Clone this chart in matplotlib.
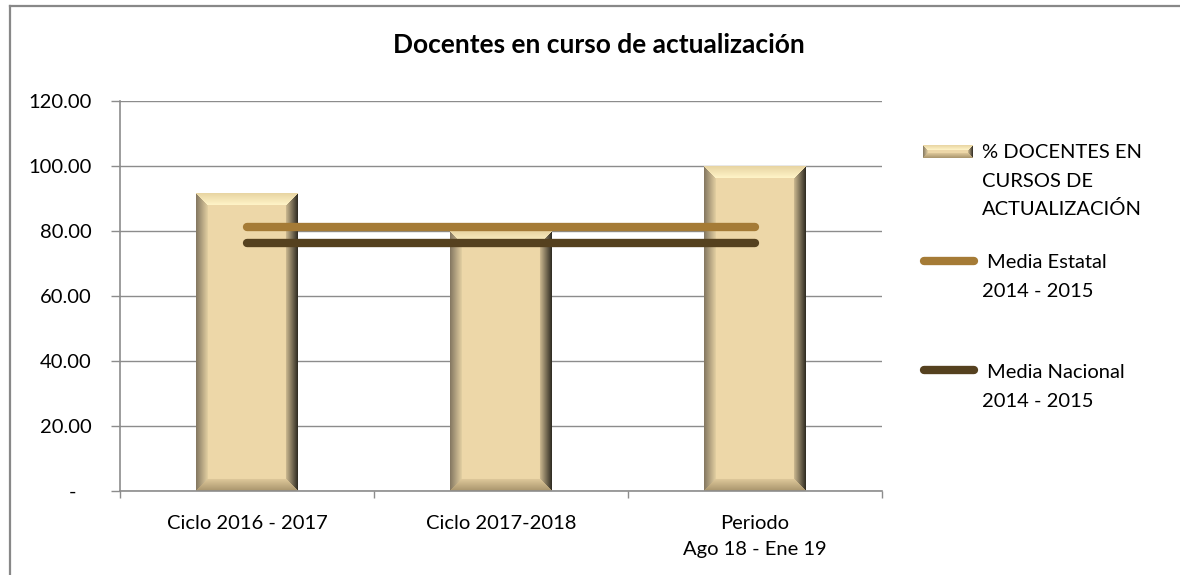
import numpy as np
import matplotlib
matplotlib.use("Agg")
import matplotlib.pyplot as plt
from matplotlib.lines import Line2D
from matplotlib.ticker import FuncFormatter

# ---------------- data ----------------
categories = ["Ciclo 2016 - 2017", "Ciclo 2017-2018", "Periodo\nAgo 18 - Ene 19"]
pct_docentes = [91.6, 80.0, 100.0]
media_estatal = [81.2, 81.2, 81.2]
media_nacional = [76.2, 76.2, 76.2]
yticks = [0, 20, 40, 60, 80, 100, 120]
title = "Docentes en curso de actualización"
legend_bar = ["% DOCENTES EN", "CURSOS DE", "ACTUALIZACIÓN"]
legend_estatal = ["Media Estatal", "2014 - 2015"]
legend_nacional = ["Media Nacional", "2014 - 2015"]

FONT = "Lato"
FS = 14.5
W, H = 1180, 575
plt.rcParams["font.family"] = [FONT, "DejaVu Sans"]

face = np.array([237, 215, 168]) / 255
edge_cols = {
    "top": (np.array([232, 212, 162]) / 255, np.array([255, 244, 200]) / 255),
    "bottom": (np.array([168, 148, 108]) / 255, np.array([222, 200, 154]) / 255),
    "left": (np.array([130, 118, 96]) / 255, np.array([228, 208, 162]) / 255),
    "right": (np.array([45, 41, 33]) / 255, np.array([205, 186, 145]) / 255),
}
C_EST = "#A57B36"
C_NAC = "#55411F"
GRID = "#8C8C8C"


def bevel_img(wpx, hpx, b=12):
    wpx, hpx = max(int(round(wpx)), 2), max(int(round(hpx)), 2)
    ys, xs = np.mgrid[0:hpx, 0:wpx] + 0.5
    d = np.stack([ys, hpx - ys, xs, wpx - xs])  # top, bottom, left, right
    idx = np.argmin(d, axis=0)
    dmin = np.min(d, axis=0)
    img = np.tile(face, (hpx, wpx, 1)).astype(float)
    for k, name in enumerate(["top", "bottom", "left", "right"]):
        c0, c1 = edge_cols[name]
        m = (idx == k) & (dmin < b)
        t = (dmin[m] / b)[:, None]
        img[m] = c0 * (1 - t) + c1 * t
    return np.clip(img, 0, 1)


fig = plt.figure(figsize=(W / 100, H / 100), dpi=100)
ax = fig.add_axes([120 / W, 1 - 491 / H, (882 - 120) / W, (491 - 101) / H])

x = np.arange(len(categories))
bars = ax.bar(x, pct_docentes, width=0.4, color=face, zorder=2, edgecolor="none")
ax.set_xlim(-0.5, len(categories) - 0.5)
ax.set_ylim(yticks[0], yticks[-1])

# bevel shading for each bar
fig.canvas.draw()
for rect in bars:
    x0, y0 = rect.get_x(), rect.get_y()
    w, h = rect.get_width(), rect.get_height()
    p0 = ax.transData.transform((x0, y0))
    p1 = ax.transData.transform((x0 + w, y0 + h))
    img = bevel_img(abs(p1[0] - p0[0]), abs(p1[1] - p0[1]))
    ax.imshow(img, extent=(x0, x0 + w, y0, y0 + h), aspect="auto",
              interpolation="bilinear", zorder=2.5, clip_path=rect, clip_on=True)
ax.set_xlim(-0.5, len(categories) - 0.5)
ax.set_ylim(yticks[0], yticks[-1])

ax.plot(x, media_estatal, color=C_EST, lw=6, solid_capstyle="round", zorder=4)
ax.plot(x, media_nacional, color=C_NAC, lw=6, solid_capstyle="round", zorder=4)

# axes styling
ax.set_yticks(yticks)
ax.yaxis.set_major_formatter(FuncFormatter(lambda v, p: "-   " if v == 0 else f"{v:.2f}"))
ax.yaxis.grid(True, color=GRID, lw=1.0, zorder=0)
ax.set_axisbelow(True)
ax.tick_params(axis="y", length=6.5, width=1, color=GRID, pad=14, labelsize=FS)
ax.set_xticks(np.arange(len(categories) + 1) - 0.5)
ax.set_xticklabels([])
ax.set_xticks(x, minor=True)
ax.set_xticklabels(categories, minor=True, fontsize=FS, linespacing=1.6)
ax.tick_params(axis="x", which="major", length=5, width=1, color=GRID, direction="out")
ax.tick_params(axis="x", which="minor", length=0, pad=17.5)
for s in ["top", "right"]:
    ax.spines[s].set_visible(False)
for s in ["left", "bottom"]:
    ax.spines[s].set_color(GRID)
    ax.spines[s].set_linewidth(1.2)

fig.text(599 / W, 1 - 53 / H, title, ha="center", va="baseline",
         fontsize=19, fontweight="bold")

# outer frame (left and top edges visible)
fx, fy = 10 / W, 1 - 6 / H
fig.lines.append(Line2D([fx, fx], [0.0, fy], transform=fig.transFigure,
                        color="#888888", lw=1.6, solid_capstyle="projecting"))
fig.lines.append(Line2D([fx, 1.0], [fy, fy], transform=fig.transFigure,
                        color="#888888", lw=1.6, solid_capstyle="projecting"))

# legend (manual)
def ftext(px, py, s):
    fig.text(px / W, 1 - py / H, s, ha="left", va="baseline", fontsize=FS)

lax = fig.add_axes([923 / W, 1 - 158 / H, 50 / W, 13 / H])
lax.imshow(bevel_img(50, 13, b=5), aspect="auto", interpolation="bilinear")
lax.axis("off")
for i, s in enumerate(legend_bar):
    ftext(982, 158 + 28.7 * i, s)

fig.lines.append(Line2D([924 / W, 974 / W], [1 - 261 / H] * 2, transform=fig.transFigure,
                        color=C_EST, lw=6, solid_capstyle="round"))
ftext(987, 268, legend_estatal[0])
ftext(982, 297, legend_estatal[1])

fig.lines.append(Line2D([924 / W, 974 / W], [1 - 370 / H] * 2, transform=fig.transFigure,
                        color=C_NAC, lw=6, solid_capstyle="round"))
ftext(987, 378, legend_nacional[0])
ftext(982, 407, legend_nacional[1])

fig.savefig("out.png", dpi=100)
